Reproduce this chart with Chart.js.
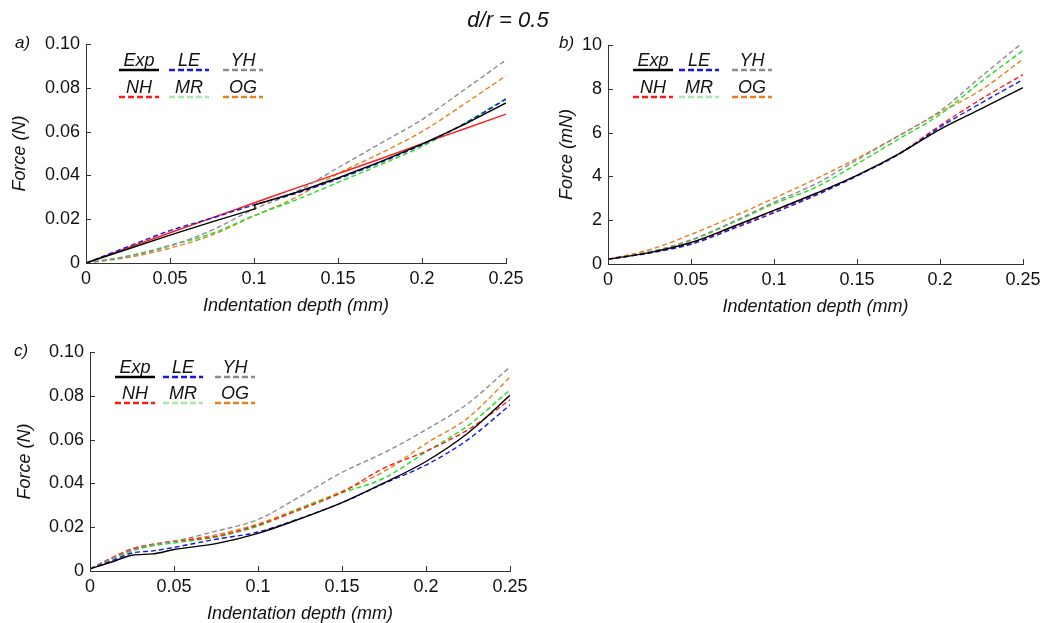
<!DOCTYPE html>
<html>
<head>
<meta charset="utf-8">
<script src="https://cdn.jsdelivr.net/npm/chart.js@4.4.0/dist/chart.umd.min.js"></script>
<style>
  body { margin: 0; background: #fff; }
  #wrap { position: relative; width: 1047px; height: 623px; font-family: "Liberation Sans", Arial, sans-serif; }
  #wrap canvas { position: absolute; left: 0; top: 0; }
  .lbl { position: absolute; font-style: italic; color: #111; white-space: nowrap; }
</style>
</head>
<body>
<div id="wrap">
  <canvas id="chartA" width="1047" height="623"></canvas>
  <canvas id="chartB" width="1047" height="623"></canvas>
  <canvas id="chartC" width="1047" height="623"></canvas>
  <div class="lbl" style="left:408px;top:8px;width:200px;text-align:center;font-size:22px;line-height:24px">d/r = 0.5</div>
  <div class="lbl" style="left:15px;top:33px;font-size:17px;line-height:20px">a)</div>
  <div class="lbl" style="left:559px;top:33px;font-size:17px;line-height:20px">b)</div>
  <div class="lbl" style="left:14px;top:341px;font-size:17px;line-height:20px">c)</div>
</div>
<script>
// ---- data ----
const seriesNames = ['Exp', 'LE', 'YH', 'NH', 'MR', 'OG'];
const xTickValues = [0, 0.05, 0.1, 0.15, 0.2, 0.25];
const xTickLabels = ['0', '0.05', '0.1', '0.15', '0.2', '0.25'];
const yTickValuesN = [0, 0.02, 0.04, 0.06, 0.08, 0.1];
const yTickLabelsN = ['0', '0.02', '0.04', '0.06', '0.08', '0.10'];
const yTickValuesMN = [0, 2, 4, 6, 8, 10];
const yTickLabelsMN = ['0', '2', '4', '6', '8', '10'];

// panel a (N)
const depthA = [0, 0.025, 0.05, 0.075, 0.1, 0.125, 0.15, 0.175, 0.2, 0.225, 0.25];
const depthExpA = [0, 0.025, 0.05, 0.075, 0.1, 0.1005, 0.125, 0.15, 0.175, 0.2, 0.225, 0.25];
const expA = [0, 0.0064, 0.0127, 0.0188, 0.0246, 0.0266, 0.0322, 0.0388, 0.0462, 0.0543, 0.0632, 0.0731];
const leA  = [0, 0.0075, 0.0148, 0.0205, 0.0265, 0.0318, 0.0384, 0.0458, 0.0540, 0.0635, 0.0748];
const yhA  = [0, 0.0030, 0.0078, 0.0150, 0.0246, 0.0325, 0.0435, 0.0545, 0.0655, 0.0790, 0.0927];
const nhA  = [0, 0.0070, 0.0138, 0.0206, 0.0274, 0.0342, 0.0408, 0.0475, 0.0545, 0.0612, 0.0680];
const mrA  = [0, 0.0032, 0.0080, 0.0135, 0.0216, 0.0288, 0.0368, 0.0448, 0.0532, 0.0637, 0.0751];
const ogA  = [0, 0.0025, 0.0068, 0.0128, 0.0215, 0.0300, 0.0408, 0.0500, 0.0600, 0.0725, 0.0855];

// panel b (mN)
const depthB = [0, 0.025, 0.05, 0.075, 0.1, 0.125, 0.15, 0.175, 0.2, 0.225, 0.25];
const expB = [0.22, 0.52, 0.98, 1.70, 2.45, 3.22, 4.05, 5.02, 6.15, 7.10, 8.05];
const leB  = [0.22, 0.50, 0.90, 1.60, 2.34, 3.13, 4.02, 5.00, 6.25, 7.36, 8.42];
const yhB  = [0.22, 0.55, 1.10, 1.92, 2.82, 3.65, 4.75, 5.85, 6.98, 8.57, 10.12];
const nhB  = [0.22, 0.52, 0.95, 1.66, 2.42, 3.17, 4.05, 5.02, 6.32, 7.54, 8.65];
const mrB  = [0.22, 0.55, 1.08, 1.88, 2.75, 3.50, 4.57, 5.70, 6.83, 8.34, 9.75];
const ogB  = [0.22, 0.65, 1.35, 2.15, 3.00, 3.88, 4.82, 5.85, 6.91, 7.96, 9.35];

// panel c (N)
const depthC = [0, 0.0125, 0.025, 0.0375, 0.05, 0.075, 0.1, 0.125, 0.15, 0.175, 0.2, 0.225, 0.25];
const expC = [0.001, 0.0040, 0.0072, 0.0078, 0.0098, 0.0125, 0.0172, 0.0238, 0.0312, 0.0402, 0.0500, 0.0630, 0.0802];
const leC  = [0.001, 0.0045, 0.0082, 0.0092, 0.0108, 0.0145, 0.0178, 0.0240, 0.0312, 0.0400, 0.0484, 0.0600, 0.0758];
const yhC  = [0.001, 0.0055, 0.0095, 0.0120, 0.0136, 0.0182, 0.0235, 0.0340, 0.0450, 0.0540, 0.0645, 0.0765, 0.0932];
const nhC  = [0.001, 0.0058, 0.0100, 0.0122, 0.0136, 0.0158, 0.0210, 0.0280, 0.0360, 0.0470, 0.0547, 0.0645, 0.0782];
const mrC  = [0.001, 0.0052, 0.0092, 0.0115, 0.0128, 0.0155, 0.0205, 0.0285, 0.0357, 0.0424, 0.0544, 0.0664, 0.0827];
const ogC  = [0.001, 0.0058, 0.0102, 0.0122, 0.0135, 0.0165, 0.0215, 0.0288, 0.0364, 0.0454, 0.0582, 0.0700, 0.0885];

// ---- styles ----
const W = 1047, H = 623, X_H = 60;
const FONT = '"Liberation Sans", Arial, sans-serif';
const axisColor = '#333333';
const lineColors = { Exp: '#000000', LE: '#1616e0', YH: '#8c8c8c', NH: '#ff1a1a', MR: '#22e022', OG: '#e4821e' };
const swatchColors = { Exp: '#000000', LE: '#1616e0', YH: '#8c8c8c', NH: '#ff1a1a', MR: '#a8e8a8', OG: '#e4821e' };

const miniLegend = {
  id: 'miniLegend',
  afterDraw(chart, args, opts) {
    const { ctx, chartArea } = chart;
    ctx.save();
    ctx.font = 'italic 18px ' + FONT;
    ctx.textAlign = 'center';
    ctx.textBaseline = 'alphabetic';
    chart.data.datasets.forEach((ds, i) => {
      const x0 = chartArea.left + opts.cols[i % 3];
      const y0 = chartArea.top + opts.rows[Math.floor(i / 3)];
      ctx.fillStyle = '#111';
      ctx.fillText(ds.label, x0 + 20, y0 - 4);
      ctx.beginPath();
      ctx.setLineDash(ds.label === 'Exp' ? [] : [6, 3]);
      ctx.strokeStyle = ds.swatchColor;
      ctx.lineWidth = 2.5;
      ctx.moveTo(x0, y0);
      ctx.lineTo(x0 + 40, y0);
      ctx.stroke();
    });
    ctx.restore();
  }
};

// MATLAB-like ticks pointing into the plot
const innerTicks = {
  id: 'innerTicks',
  afterDraw(chart) {
    const { ctx, chartArea, scales } = chart;
    ctx.save();
    ctx.strokeStyle = axisColor;
    ctx.lineWidth = 1;
    ctx.beginPath();
    scales.x.ticks.forEach(t => {
      const px = Math.round(scales.x.getPixelForValue(t.value)) + 0.5;
      ctx.moveTo(px, chartArea.bottom);
      ctx.lineTo(px, chartArea.bottom - 5);
    });
    scales.y.ticks.forEach(t => {
      const py = Math.round(scales.y.getPixelForValue(t.value)) + 0.5;
      ctx.moveTo(chartArea.left, py);
      ctx.lineTo(chartArea.left + 5, py);
    });
    ctx.stroke();
    ctx.restore();
  }
};

function makePanel(id, p) {
  const datasets = seriesNames.map(name => {
    const [xs, ys] = p.series[name];
    const straight = (p.straight || []).includes(name);
    return {
      label: name,
      data: xs.map((x, i) => ({ x, y: ys[i] })),
      borderColor: lineColors[name],
      swatchColor: swatchColors[name],
      borderWidth: 1.4,
      borderDash: p.solid.includes(name) ? [] : [5, 3],
      pointRadius: 0,
      fill: false,
      tension: 0,
      cubicInterpolationMode: straight ? 'default' : 'monotone'
    };
  });
  new Chart(document.getElementById(id), {
    type: 'line',
    data: { datasets },
    plugins: [miniLegend, innerTicks],
    options: {
      responsive: false,
      animation: false,
      devicePixelRatio: 1,
      events: [],
      layout: {
        padding: {
          left: p.area.left - p.yW,
          top: p.area.top,
          right: W - p.area.right,
          bottom: H - p.area.bottom - X_H
        }
      },
      plugins: {
        legend: { display: false },
        tooltip: { enabled: false },
        miniLegend: { cols: p.legendCols, rows: p.legendRows }
      },
      scales: {
        x: {
          type: 'linear', min: 0, max: 0.25,
          afterFit: s => { s.height = X_H; },
          afterBuildTicks: s => { s.ticks = xTickValues.map(v => ({ value: v })); },
          grid: { display: false, drawTicks: false },
          border: { display: true, color: axisColor, width: 1 },
          ticks: { autoSkip: false, maxRotation: 0, padding: 5, color: '#111',
                   font: { family: FONT, size: 18 }, callback: (v, i) => xTickLabels[i] },
          title: { display: true, text: 'Indentation depth (mm)', color: '#111',
                   padding: { top: 6, bottom: 6 }, font: { family: FONT, size: 18, style: 'italic' } }
        },
        y: {
          type: 'linear', min: 0, max: p.yMax,
          afterFit: s => { s.width = p.yW; },
          afterBuildTicks: s => { s.ticks = p.yTickValues.map(v => ({ value: v })); },
          grid: { display: false, drawTicks: false },
          border: { display: true, color: axisColor, width: 1 },
          ticks: { autoSkip: false, padding: 6, color: '#111',
                   font: { family: FONT, size: 18 }, callback: (v, i) => p.yTickLabels[i] },
          title: { display: true, text: p.yTitle, color: '#111',
                   padding: { top: 9, bottom: 9 }, font: { family: FONT, size: 18, style: 'italic' } }
        }
      }
    }
  });
}

makePanel('chartA', {
  area: { left: 86, top: 44, right: 506, bottom: 263 }, yW: 86,
  yMax: 0.1, yTickValues: yTickValuesN, yTickLabels: yTickLabelsN, yTitle: 'Force (N)',
  legendCols: [33, 83, 137], legendRows: [26, 53], solid: ['Exp', 'NH'], straight: ['Exp'],
  series: { Exp: [depthExpA, expA], LE: [depthA, leA], YH: [depthA, yhA],
            NH: [depthA, nhA], MR: [depthA, mrA], OG: [depthA, ogA] }
});

makePanel('chartB', {
  area: { left: 608, top: 45, right: 1023, bottom: 264 }, yW: 61,
  yMax: 10, yTickValues: yTickValuesMN, yTickLabels: yTickLabelsMN, yTitle: 'Force (mN)',
  legendCols: [25, 71, 124], legendRows: [25, 52], solid: ['Exp'],
  series: { Exp: [depthB, expB], LE: [depthB, leB], YH: [depthB, yhB],
            NH: [depthB, nhB], MR: [depthB, mrB], OG: [depthB, ogB] }
});

makePanel('chartC', {
  area: { left: 90, top: 352, right: 510, bottom: 571 }, yW: 85,
  yMax: 0.1, yTickValues: yTickValuesN, yTickLabels: yTickLabelsN, yTitle: 'Force (N)',
  legendCols: [25, 73, 125], legendRows: [25, 51], solid: ['Exp'],
  series: { Exp: [depthC, expC], LE: [depthC, leC], YH: [depthC, yhC],
            NH: [depthC, nhC], MR: [depthC, mrC], OG: [depthC, ogC] }
});
</script>
</body>
</html>
